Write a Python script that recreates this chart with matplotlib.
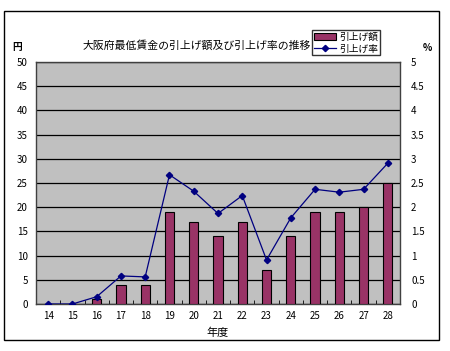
import matplotlib
matplotlib.use("Agg")
import matplotlib.pyplot as plt
from matplotlib.patches import Rectangle

plt.rcParams['font.family'] = ['Noto Sans CJK JP', 'DejaVu Sans']

# data
years = ["14", "15", "16", "17", "18", "19", "20", "21", "22", "23", "24", "25", "26", "27", "28"]
amount = [0, 0, 1, 4, 4, 19, 17, 14, 17, 7, 14, 19, 19, 20, 25]
rate = [0.0, 0.0, 0.15, 0.58, 0.56, 2.67, 2.33, 1.87, 2.24, 0.91, 1.78, 2.37, 2.31, 2.37, 2.91]

W, H = 450, 351
fig = plt.figure(figsize=(W / 100, H / 100), dpi=100)

# outer frame
fig.patches.append(Rectangle((4 / W, 1 - 340 / H), 435 / W, 329 / H, transform=fig.transFigure,
                             fill=False, edgecolor='black', linewidth=1.0))

ax = fig.add_axes([36 / W, 1 - 304 / H, 364 / W, 242 / H])
ax.set_facecolor('#C0C0C0')
x = list(range(len(years)))
bars = ax.bar(x, amount, width=0.38, color='#993366', edgecolor='black', linewidth=0.8,
              label='引上げ額', zorder=3)
ax.set_xlim(-0.5, len(years) - 0.5)
ax.set_ylim(0, 50)
ax.set_yticks(range(0, 51, 5))
ax.yaxis.grid(True, color='black', linewidth=0.9, zorder=1)
ax.set_axisbelow(True)
ax.set_xticks(x)
ax.set_xticklabels(years, fontsize=7)
ax.tick_params(axis='x', length=0, pad=5)
ax.set_xticks([i + 0.5 for i in x[:-1]], minor=True)
ax.tick_params(axis='x', which='minor', length=3, direction='in', color='black')
ax.tick_params(axis='y', length=0, labelsize=7, pad=6)
for s in ax.spines.values():
    s.set_linewidth(1.0)
    s.set_color('#404040')
ax.set_xlabel('年度', fontsize=8, labelpad=5)

ax2 = ax.twinx()
line, = ax2.plot(x, rate, color='#000080', linewidth=0.9, marker='D', markersize=3.2,
                 label='引上げ率', zorder=4)
ax2.set_ylim(0, 5)
ax2.set_yticks([i * 0.5 for i in range(11)])
ax2.set_yticklabels(['0', '0.5', '1', '1.5', '2', '2.5', '3', '3.5', '4', '4.5', '5'])
ax2.tick_params(axis='y', length=0, labelsize=7, pad=8)
for s in ax2.spines.values():
    s.set_visible(False)

fig.text(12 / W, 1 - 47 / H, '円', fontsize=7, ha='left', va='center', fontweight='bold')
fig.text(423 / W, 1 - 48 / H, '%', fontsize=7, ha='left', va='center', fontweight='bold')
fig.text(197 / W, 1 - 45 / H, '大阪府最低賃金の引上げ額及び引上げ率の推移', fontsize=7.8,
         ha='center', va='center')

leg = fig.legend(handles=[bars, line], loc='upper left', bbox_to_anchor=(312 / W, 1 - 30 / H),
                 fontsize=7, frameon=True, fancybox=False, edgecolor='black', borderpad=0.2,
                 handlelength=2.3, handletextpad=0.3, labelspacing=0.15, borderaxespad=0)
leg.get_frame().set_linewidth(1.0)

fig.savefig('out.png', dpi=100)
